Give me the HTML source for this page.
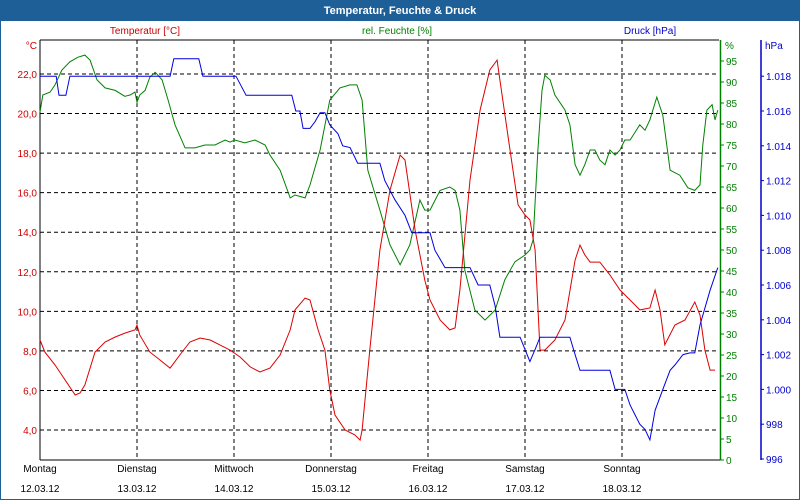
<!DOCTYPE html>
<html><head><meta charset="utf-8"><style>
body{margin:0;width:800px;height:500px;overflow:hidden;background:#fff;font-family:"Liberation Sans",sans-serif}
svg{display:block}
</style></head><body>
<svg id="chart" width="800" height="500" font-family="Liberation Sans, sans-serif" font-size="10">
<rect x="0" y="0" width="800" height="500" fill="#fff"/>
<rect x="0.5" y="20.5" width="799" height="479" fill="none" stroke="#1d5f99" stroke-width="1"/>
<rect x="0" y="0" width="800" height="20" fill="#1f5f98"/>
<text x="400" y="14" text-anchor="middle" fill="#fff" font-weight="bold" font-size="11">Temperatur, Feuchte &amp; Druck</text>
<text x="145" y="34" text-anchor="middle" fill="#cc0000">Temperatur [°C]</text>
<text x="397" y="34" text-anchor="middle" fill="#008000">rel. Feuchte [%]</text>
<text x="650" y="34" text-anchor="middle" fill="#0000cc">Druck [hPa]</text>
<g id="grid"></g><g id="axes"></g><g id="series"></g>
</svg>
<script>
const NS="http://www.w3.org/2000/svg";
const tempHours=[0,1.2,3.7,6.2,8.7,9.9,11.1,13.6,16.1,18.6,21,23.5,24,24.7,27.2,29.7,32.2,34.6,37.1,39.6,42.1,44.5,47,49.5,52,54.4,56.9,59.4,61.9,63.1,65.6,66.8,68.8,70.5,71.7,73,75.5,77.9,79.2,79.7,81.6,84.1,86.6,89.1,90.3,92.8,95.2,96.5,99,101.4,102.7,103.9,106.4,108.9,111.3,113.1,113.8,116.3,118.3,120,121.2,122.5,123.7,124.9,127.4,129.9,132.4,133.6,134.8,136.1,138.5,141,143.5,146,148.4,150.9,152.2,153.4,154.6,157.1,159.6,162,163.3,164.5,165.8,167];
const tempValues=[8.55,7.94,7.29,6.53,5.77,5.87,6.28,7.94,8.45,8.7,8.9,9.06,9.31,8.8,7.94,7.54,7.13,7.79,8.45,8.65,8.55,8.3,8.04,7.69,7.19,6.93,7.13,7.79,9.06,10.07,10.67,10.57,9.06,8.04,6.02,4.76,4.0,3.75,3.49,4.0,8.04,13.1,16.13,17.9,17.65,14.11,11.58,10.57,9.56,9.06,9.16,11.08,16.64,20.18,22.2,22.7,21.7,18.16,15.38,14.87,14.62,13.1,8.04,8.04,8.55,9.56,12.59,13.35,12.85,12.49,12.49,11.84,11.08,10.57,10.07,10.17,11.08,10.07,8.3,9.31,9.56,10.47,9.81,8.04,7.03,7.03];
const humHours=[0,0.7,2.5,3.7,5.4,7.4,9.4,11.1,12.4,14.1,16.1,18.6,21,22.3,23.5,24,24.7,26,27.2,28.5,29.2,30.2,31.7,33.4,35.9,38.3,40.8,43.3,45.8,47,48.2,50.7,53.2,55.7,56.9,59.4,61.9,63.1,65.6,66.8,69.3,71.7,74.2,76.7,78.4,79.7,81.1,84.1,86.6,89.1,91.5,94,95.2,96.5,99,101.4,102.7,103.9,105.1,107.6,110.1,112.6,115,117.5,120,121.2,122,123.2,124.2,124.9,126.2,127.4,129.9,131.1,132.4,133.6,134.8,136.1,137.3,138.5,139.8,141,142.3,143.5,144.7,146,148.4,149.7,150.9,152.6,154.1,155.9,158.3,160.3,162,163.3,164,165,166.3,167,167.7];
const humValues=[82.8,86.9,87.6,89.3,92.8,94.8,95.9,96.4,95.2,90.5,88.6,88.0,86.6,86.9,87.6,85.2,86.9,88.0,91.2,92.3,91.6,90.5,85.7,79.8,74.3,74.3,75.0,75.0,76.2,75.7,76.2,75.5,76.2,75.0,72.6,69.0,62.4,63.1,62.4,65.5,73.8,85.7,88.6,89.3,89.3,85.7,69.0,59.5,51.2,46.5,51.2,61.9,59.5,59.5,64.2,65.0,64.2,59.5,45.2,35.7,33.3,35.7,42.9,47.2,48.8,50.0,52.4,73.8,88.0,91.6,90.5,86.9,83.3,79.8,70.3,67.8,70.3,73.8,73.8,71.4,70.3,73.8,72.6,73.8,76.2,76.2,79.8,78.5,81.0,86.4,82.1,69.0,67.8,64.8,64.2,65.5,75.0,83.3,84.6,81.0,83.3];
const presHours=[0,4,4.7,6.4,7.4,32.2,33.1,39.3,40.3,48.5,51,62.3,63.3,64.3,65.1,66.8,68.1,69.3,70.5,71.7,73.7,74.9,76.7,78.6,84.1,85.3,87.8,90.3,92,96.5,97.7,100.2,106.4,108.4,111.3,112.6,113.8,118.8,120,121.2,122.5,123.7,131.1,132.4,133.6,141,142.3,144.7,146,148.4,149.7,150.9,152.2,154.6,155.9,157.1,159.1,160.8,162,163.3,165.8,167.7];
const presValues=[1018,1018,1016.9,1016.9,1018,1018,1019,1019,1018,1018,1016.9,1016.9,1016,1016,1015,1015,1015.4,1015.9,1015.9,1015.2,1014.7,1014,1013.9,1013,1013,1012,1010.9,1010,1009,1009,1008,1007,1007,1006,1006,1004.8,1003,1003,1002.3,1001.6,1002.3,1003,1003,1002,1001.1,1001.1,1000,1000,999.1,998,997.7,997.1,998.8,1000.3,1001.1,1001.4,1002,1002.1,1002.1,1003.7,1005.7,1007];
const dayNames=["Montag","Dienstag","Mittwoch","Donnerstag","Freitag","Samstag","Sonntag"];
const dayDates=["12.03.12","13.03.12","14.03.12","15.03.12","16.03.12","17.03.12","18.03.12"];
const tempTicks=[4,6,8,10,12,14,16,18,20,22];
const humTicks=[0,5,10,15,20,25,30,35,40,45,50,55,60,65,70,75,80,85,90,95];
const presTicks=[996,998,1000,1002,1004,1006,1008,1010,1012,1014,1016,1018];

const L=40,R=719,T=40,B=460;
const x=h=>L+h*(R-L)/168;
const yT=t=>430-(t-4)*19.78;
const yH=h=>460-h*4.2;
const yP=p=>459-(p-996)*17.4;
function mk(tag,attrs,parent,text){const e=document.createElementNS(NS,tag);for(const k in attrs)e.setAttribute(k,attrs[k]);if(text!==undefined)e.textContent=text;parent.appendChild(e);return e;}
const grid=document.getElementById('grid'),axes=document.getElementById('axes'),ser=document.getElementById('series');
tempTicks.forEach(t=>{
  const l=mk('line',{x1:L,x2:R,y1:yT(t),y2:yT(t),stroke:'#000','stroke-dasharray':'4,3','stroke-width':1},grid);
  
  
  const tx=mk('text',{x:37,y:yT(t)+4,'text-anchor':'end',fill:'#cc0000'},axes,t.toFixed(1).replace('.',','));
  
  
});
dayNames.forEach((d,i)=>{
  const gx=x(i*24);
  if(i>0){const l=mk('line',{x1:gx,x2:gx,y1:T,y2:B,stroke:'#000','stroke-dasharray':'4,3','stroke-width':1},grid);
  
  }
  const a=mk('text',{x:gx,y:472,'text-anchor':'middle',fill:'#000'},axes,d);
  
  
  const b=mk('text',{x:gx,y:492,'text-anchor':'middle',fill:'#000'},axes,dayDates[i]);
  
  
});
let e;
e=mk('line',{x1:L,x2:L,y1:T,y2:B,stroke:'#000'},axes);
e=mk('line',{x1:L,x2:R,y1:T,y2:T,stroke:'#000'},axes);
e=mk('line',{x1:L,x2:721,y1:B,y2:B,stroke:'#000'},axes);
e=mk('line',{x1:720.5,x2:720.5,y1:T,y2:B,stroke:'#008000','stroke-width':1.5},axes);
e=mk('line',{x1:761,x2:761,y1:T,y2:B,stroke:'#0000cc','stroke-width':1.5},axes);
e=mk('text',{x:37,y:49,'text-anchor':'end',fill:'#cc0000'},axes,'°C');
e=mk('text',{x:725,y:49,fill:'#008000'},axes,'%');
e=mk('text',{x:765,y:49,fill:'#0000cc'},axes,'hPa');
humTicks.forEach(h=>{
  const l=mk('line',{x1:720,x2:724,y1:yH(h),y2:yH(h),stroke:'#008000'},axes);
  
  
  const t=mk('text',{x:726,y:yH(h)+4,fill:'#008000'},axes,String(h));
  
  
});
presTicks.forEach(p=>{
  const l=mk('line',{x1:761,x2:764,y1:yP(p),y2:yP(p),stroke:'#0000cc'},axes);
  
  
  const lab=p>=1000?'1.'+String(p).slice(1):String(p);
  const t=mk('text',{x:766,y:yP(p)+4,fill:'#0000cc'},axes,lab);
  
  
});
function line(hs,vs,yf,color,name){
  const pts=hs.map((h,i)=>x(h).toFixed(1)+','+yf(vs[i]).toFixed(1)).join(' ');
  const p=mk('polyline',{points:pts,fill:'none',stroke:color,'stroke-width':1},ser);
  
  
}
line(humHours,humValues,yH,'#008000','humidity-line');
line(tempHours,tempValues,yT,'#dd0000','temperature-line');
line(presHours,presValues,yP,'#0000dd','pressure-line');
</script>
</body></html>
